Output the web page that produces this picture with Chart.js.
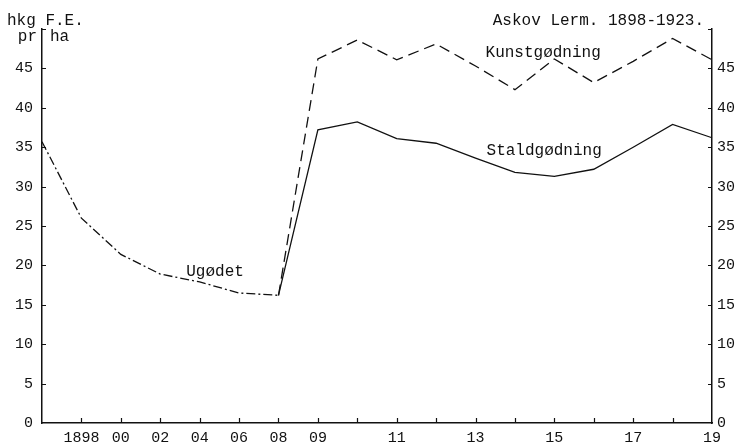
<!DOCTYPE html>
<html>
<head>
<meta charset="utf-8">
<script src="https://cdn.jsdelivr.net/npm/chart.js@4.4.1/dist/chart.umd.min.js"></script>
<style>
  html, body { margin: 0; padding: 0; background: #fff; }
  #wrap { width: 736px; height: 448px; }
</style>
</head>
<body>
<div id="wrap"><canvas id="myChart" width="736" height="448"></canvas></div>
<script>
// år på x-aksen (to år pr. streg før 1908, et år pr. streg efter)
var years = [1896, 1898, 1900, 1902, 1904, 1906, 1908, 1909, 1910, 1911, 1912, 1913, 1914, 1915, 1916, 1917, 1918, 1919];
var shownYears = [1898, 1900, 1902, 1904, 1906, 1908, 1909, 1911, 1913, 1915, 1917, 1919];

// hkg F.E. pr ha
var ugoedet = [35.7, 26.0, 21.4, 18.9, 17.9, 16.5, 16.2, null, null, null, null, null, null, null, null, null, null, null];
var kunstgoedning = [null, null, null, null, null, null, 16.2, 46.2, 48.6, 46.1, 48.1, 45.3, 42.3, 46.2, 43.2, 45.9, 48.8, 46.1];
var staldgoedning = [null, null, null, null, null, null, 16.2, 37.2, 38.2, 36.1, 35.5, 33.6, 31.8, 31.3, 32.2, 35.0, 37.9, 36.2];

var yTicks = [0, 5, 10, 15, 20, 25, 30, 35, 40, 45];

var mono = 'Liberation Mono, DejaVu Sans Mono, monospace';
var ink = '#111';

// små streger ind mod diagrammet + tekster
var tegnPlugin = {
  id: 'tegn',
  afterDraw: function(chart) {
    var ctx = chart.ctx;
    var a = chart.chartArea;
    var x = chart.scales.x;
    var y = chart.scales.y;
    ctx.save();
    ctx.strokeStyle = ink;
    ctx.lineWidth = 1.2;
    ctx.beginPath();
    for (var i = 1; i < years.length - 1; i++) {
      var px = Math.round(x.getPixelForTick(i)) + 0.5;
      ctx.moveTo(px, a.bottom);
      ctx.lineTo(px, a.bottom - 5);
    }
    y.ticks.forEach(function(t) {
      if (t.value === 0) return;
      var py = Math.round(y.getPixelForValue(t.value)) + 0.5;
      ctx.moveTo(a.left, py);
      ctx.lineTo(a.left + 4, py);
      ctx.moveTo(a.right, py);
      ctx.lineTo(a.right - 4, py);
    });
    ctx.stroke();

    ctx.fillStyle = ink;
    ctx.font = '16px ' + mono;
    ctx.textBaseline = 'middle';
    ctx.textAlign = 'left';
    ctx.fillText('hkg F.E.', 7, a.top - 8);
    ctx.fillText('ha', a.left + 8, a.top + 8);
    ctx.textAlign = 'right';
    ctx.fillText('pr', a.left - 5, a.top + 8);
    ctx.fillText('Askov Lerm. 1898-1923.', a.right - 8, a.top - 8);
    ctx.textAlign = 'left';
    ctx.fillText('Kunstgødning', x.getPixelForValue(11) + 10, y.getPixelForValue(47));
    ctx.fillText('Staldgødning', x.getPixelForValue(11) + 11, y.getPixelForValue(34.6));
    ctx.fillText('Ugødet', x.getPixelForValue(3) + 26, y.getPixelForValue(19.2));
    ctx.restore();
  }
};

var ctx = document.getElementById('myChart').getContext('2d');
var myChart = new Chart(ctx, {
  type: 'line',
  data: {
    labels: years,
    datasets: [{
      label: 'Ugødet',
      data: ugoedet,
      borderColor: ink,
      borderWidth: 1.3,
      borderDash: [9, 3, 2, 3]
    }, {
      label: 'Kunstgødning',
      data: kunstgoedning,
      borderColor: ink,
      borderWidth: 1.3,
      borderDash: [11, 6]
    }, {
      label: 'Staldgødning',
      data: staldgoedning,
      borderColor: ink,
      borderWidth: 1.3
    }]
  },
  options: {
    responsive: false,
    animation: false,
    layout: { padding: { top: 29, left: 0, right: 0, bottom: 0 } },
    elements: { point: { radius: 0 }, line: { tension: 0 } },
    plugins: {
      legend: { display: false },
      tooltip: { enabled: false }
    },
    scales: {
      x: {
        type: 'category',
        offset: false,
        grid: { display: false, drawTicks: false },
        border: { display: true, color: ink, width: 1.5 },
        ticks: {
          autoSkip: false,
          maxRotation: 0,
          padding: 6,
          color: ink,
          font: { family: mono, size: 15 },
          callback: function(val, i) {
            var yr = years[i];
            if (shownYears.indexOf(yr) < 0) return '';
            return yr === 1898 ? '1898' : String(yr).slice(2);
          }
        },
        afterFit: function(s) { s.height = 25; }
      },
      y: {
        position: 'left',
        min: 0,
        max: 50,
        grid: { display: false, drawTicks: false },
        border: { display: true, color: ink, width: 1.5 },
        ticks: {
          stepSize: 5,
          padding: 9,
          color: ink,
          font: { family: mono, size: 15 },
          callback: function(v) { return yTicks.indexOf(v) >= 0 ? String(v) : ''; }
        },
        afterFit: function(s) { s.width = 42; s.paddingTop = 0; s.paddingBottom = 0; }
      },
      y2: {
        position: 'right',
        display: true,
        min: 0,
        max: 50,
        grid: { display: false, drawTicks: false },
        border: { display: true, color: ink, width: 1.5 },
        ticks: {
          stepSize: 5,
          padding: 5,
          color: ink,
          font: { family: mono, size: 15 },
          callback: function(v) { return yTicks.indexOf(v) >= 0 ? String(v) : ''; }
        },
        afterFit: function(s) { s.width = 24; s.paddingTop = 0; s.paddingBottom = 0; }
      }
    }
  },
  plugins: [tegnPlugin]
});
</script>
</body>
</html>
